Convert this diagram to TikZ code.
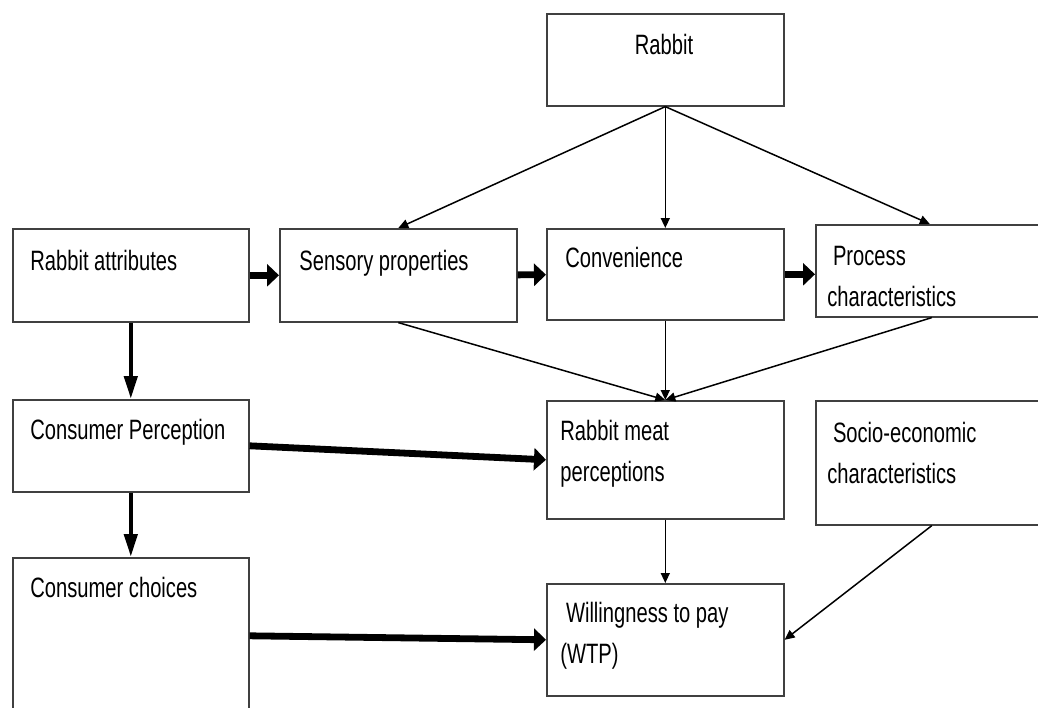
\documentclass[tikz,border=0pt]{standalone}
\usepackage{fontspec}
\setmainfont{Liberation Sans}
\usepackage{graphicx}
\usetikzlibrary{arrows.meta}
\newcommand{\rtext}[1]{\scalebox{0.72}[1]{\begin{tabular}[t]{@{}l@{}}#1\end{tabular}}}
\begin{document}
\begin{tikzpicture}[x=0.5pt, y=-0.5pt]
\tikzset{rbox/.style={draw=black!75, line width=0.8pt, fill=white, inner sep=0pt, anchor=north west, minimum width=118.5pt}}
\tikzset{rlbl/.style={inner sep=0pt, anchor=base west, font=\fontsize{14}{20.5}\selectfont}}
\tikzset{rthin/.style={-{Triangle[length=5pt, width=4.5pt]}, line width=0.75pt}}
\tikzset{rfath/.style={-{Triangle[length=6pt, width=11pt]}, line width=3.4pt}}
\tikzset{rfatv/.style={-{Triangle[length=11.5pt, width=6.5pt]}, line width=2.2pt}}
\useasboundingbox (0,0) rectangle (1038,707);
\clip (0,0) rectangle (1038,707);
% boxes
\node (rabbit)  [rbox, minimum height=46pt] at (546, 13) {};
\node (attr)    [rbox, minimum height=46.5pt, minimum width=118pt] at (12,228) {};
\node (sens)    [rbox, minimum height=46.5pt] at (279,228) {};
\node (conv)    [rbox, minimum height=45.5pt] at (546,228) {};
\node (proc)    [rbox, minimum height=46pt, minimum width=130pt] at (815,224) {};
\node (cperc)   [rbox, minimum height=46pt, minimum width=118pt] at (12,399) {};
\node (rmeat)   [rbox, minimum height=59pt] at (546,400) {};
\node (socio)   [rbox, minimum height=62pt, minimum width=130pt] at (815,400) {};
\node (cchoice) [rbox, minimum height=78pt, minimum width=118pt] at (12,557) {};
\node (wtp)     [rbox, minimum height=56pt] at (546,583) {};
% texts
\node (rabbit-l)  [rlbl, anchor=base] at (664, 54) {\rtext{Rabbit}};
\node (attr-l)    [rlbl] at ( 30,270) {\rtext{Rabbit attributes}};
\node (sens-l)    [rlbl] at (299,270) {\rtext{Sensory properties}};
\node (conv-l)    [rlbl] at (565,267) {\rtext{Convenience}};
\node (proc-l)    [rlbl] at (827,265) {\rtext{\ Process\\characteristics}};
\node (cperc-l)   [rlbl] at ( 30,439) {\rtext{Consumer Perception}};
\node (rmeat-l)   [rlbl] at (560,440) {\rtext{Rabbit meat\\perceptions}};
\node (socio-l)   [rlbl] at (827,442) {\rtext{\ Socio-economic\\characteristics}};
\node (cchoice-l) [rlbl] at ( 30,597) {\rtext{Consumer choices}};
\node (wtp-l)     [rlbl] at (560,622) {\rtext{\ Willingness to pay\\(WTP)}};
% from rabbit
\draw[rthin] (rabbit.south) -- (sens.north);
\draw[rthin] (rabbit) -- (conv);
\draw[rthin] (rabbit.south) -- ([xshift=-8pt]proc.north);
% attribute chain
\draw[rfath] (attr) -- (sens);
\draw[rfath] (sens) -- (conv);
\draw[rfath] (conv.east) -- (conv.east -| proc.west);
\draw[rfatv] (attr) -- (cperc);
\draw[rfatv] (cperc) -- (cchoice);
\draw[rfath] (cperc.east) -- (rmeat.west);
\draw[rfath] (cchoice.east) -- (wtp.west);
% towards perceptions and wtp
\draw[rthin] (sens.south) -- (rmeat.north);
\draw[rthin] (conv) -- (rmeat);
\draw[rthin] ([xshift=-7pt]proc.south) -- (rmeat.north);
\draw[rthin] (rmeat) -- (wtp);
\draw[rthin] ([xshift=-7pt]socio.south) -- (wtp.east);
\end{tikzpicture}
\end{document}
